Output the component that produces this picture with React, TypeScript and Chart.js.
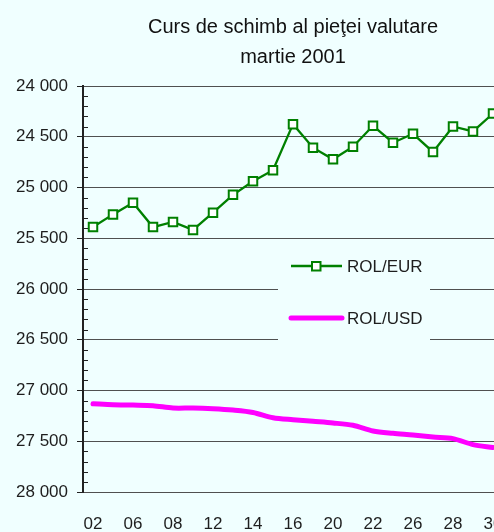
import { useEffect, useRef } from 'react';
import { Chart, registerables } from 'chart.js';

Chart.register(...registerables);

const days = ['02', '05', '06', '07', '08', '09', '12', '13', '14', '15', '16', '19', '20', '21', '22', '23', '26', '27', '28', '29', '30'];
const rolEur = [25390, 25265, 25150, 25390, 25340, 25418, 25248, 25072, 24938, 24830, 24376, 24608, 24722, 24598, 24392, 24559, 24471, 24650, 24399, 24448, 24271];
const rolUsd = [27131, 27140, 27144, 27150, 27173, 27173, 27180, 27193, 27216, 27268, 27288, 27304, 27320, 27343, 27399, 27422, 27438, 27458, 27474, 27533, 27562];
const seriesLabels = ['ROL/EUR', 'ROL/USD'];
const titleLines = ['Curs de schimb al pieţei valutare', 'martie 2001'];
const yMin = 24000;
const yMax = 28000;
const yMajorStep = 500;
const yMinorStep = 100;

const BG = '#F0FFFF';
const FONT = '"Liberation Sans", Arial, Helvetica, sans-serif';
const TEXT = '#1e1e1e';

const fmt = (v: number) => {
  const th = Math.floor(v / 1000);
  const rest = String(v % 1000).padStart(3, '0');
  return `${th} ${rest}`;
};

const bgPlugin = {
  id: 'bgFill',
  beforeDraw(chart: any) {
    const { ctx, width, height } = chart;
    ctx.save();
    ctx.fillStyle = BG;
    ctx.fillRect(0, 0, width, height);
    ctx.restore();
  },
};

const minorTicksPlugin = {
  id: 'minorTicks',
  afterDraw(chart: any) {
    const { ctx, chartArea } = chart;
    const y = chart.scales.y;
    ctx.save();
    ctx.strokeStyle = '#222';
    ctx.lineWidth = 1;
    y.ticks.forEach((t: any) => {
      if (t.value % yMajorStep === 0) return;
      const py = Math.round(y.getPixelForValue(t.value)) + 0.5;
      ctx.beginPath();
      ctx.moveTo(chartArea.left, py);
      ctx.lineTo(chartArea.left + 5, py);
      ctx.stroke();
    });
    ctx.restore();
  },
};

const legendPlugin = {
  id: 'insideLegend',
  afterDraw(chart: any) {
    const { ctx, chartArea } = chart;
    const L = chartArea.left;
    const T = chartArea.top;
    ctx.save();
    ctx.fillStyle = BG;
    ctx.fillRect(L + 195, T + 159, 152, 101);
    const ds = chart.data.datasets;
    const rows = [T + 180, T + 232];
    ds.forEach((d: any, i: number) => {
      const ry = rows[i];
      ctx.strokeStyle = d.borderColor;
      ctx.lineWidth = d.borderWidth;
      ctx.lineCap = i === 1 ? 'round' : 'butt';
      ctx.beginPath();
      ctx.moveTo(L + 208, ry);
      ctx.lineTo(L + 259, ry);
      ctx.stroke();
      if (i === 0) {
        ctx.fillStyle = '#ffffff';
        ctx.lineWidth = 2;
        ctx.beginPath();
        ctx.rect(L + 229, ry - 4, 8.5, 8.5);
        ctx.fill();
        ctx.stroke();
      }
      ctx.fillStyle = TEXT;
      ctx.font = `17px ${FONT}`;
      ctx.textAlign = 'left';
      ctx.textBaseline = 'middle';
      ctx.fillText(d.label, L + 264, ry + 1);
    });
    ctx.restore();
  },
};

export default function App() {
  const ref = useRef<HTMLCanvasElement | null>(null);

  useEffect(() => {
    if (!ref.current) return;
    Chart.defaults.font.family = FONT;
    const chart = new Chart(ref.current, {
      type: 'line',
      data: {
        labels: days,
        datasets: [
          {
            label: seriesLabels[0],
            data: rolEur,
            borderColor: '#008000',
            borderWidth: 2.3,
            pointStyle: 'rect',
            pointRadius: 6,
            pointBorderWidth: 2,
            pointBackgroundColor: '#ffffff',
            pointBorderColor: '#008000',
            tension: 0,
          },
          {
            label: seriesLabels[1],
            data: rolUsd,
            borderColor: '#FF00FF',
            borderWidth: 5,
            pointRadius: 0,
            tension: 0.3,
            borderCapStyle: 'round',
          },
        ],
      },
      options: {
        responsive: false,
        animation: false,
        devicePixelRatio: 1,
        layout: { padding: { left: 0, right: 27, top: 0, bottom: 0 } },
        plugins: {
          legend: { display: false },
          tooltip: { enabled: false },
          title: {
            display: true,
            text: titleLines,
            fullSize: false,
            color: '#111',
            font: { size: 20, weight: 'normal', lineHeight: 1.525, family: FONT },
            padding: { top: 12, bottom: 13 },
          },
        },
        scales: {
          x: {
            offset: true,
            grid: { display: false, drawTicks: false },
            border: { display: false },
            ticks: {
              autoSkip: false,
              maxRotation: 0,
              padding: 22,
              color: TEXT,
              font: { size: 17 },
              callback: (_v: any, i: number) => (i % 2 === 0 ? days[i] : ''),
            },
            afterFit: (s: any) => {
              s.height = 40;
            },
          },
          y: {
            reverse: true,
            min: yMin,
            max: yMax,
            grid: {
              color: (c: any) => (c.tick && c.tick.value % yMajorStep === 0 ? '#505050' : 'rgba(0,0,0,0)'),
              tickColor: (c: any) => (c.tick && c.tick.value % yMajorStep === 0 ? '#222222' : 'rgba(0,0,0,0)'),
              tickLength: 6,
              lineWidth: 1,
            },
            border: { color: '#222', width: 2 },
            ticks: {
              stepSize: yMinorStep,
              autoSkip: false,
              padding: 9,
              color: TEXT,
              font: { size: 17 },
              callback: (v: any) => (Number(v) % yMajorStep === 0 ? fmt(Number(v)) : ''),
            },
            afterFit: (s: any) => {
              s.width = 83;
            },
          },
        },
      },
      plugins: [bgPlugin, minorTicksPlugin, legendPlugin],
    });
    return () => chart.destroy();
  }, []);

  return (
    <div style={{ position: 'fixed', left: 0, top: 0, width: 530, height: 532, background: BG, overflow: 'hidden' }}>
      <canvas ref={ref} width={530} height={532} style={{ display: 'block' }} />
    </div>
  );
}
